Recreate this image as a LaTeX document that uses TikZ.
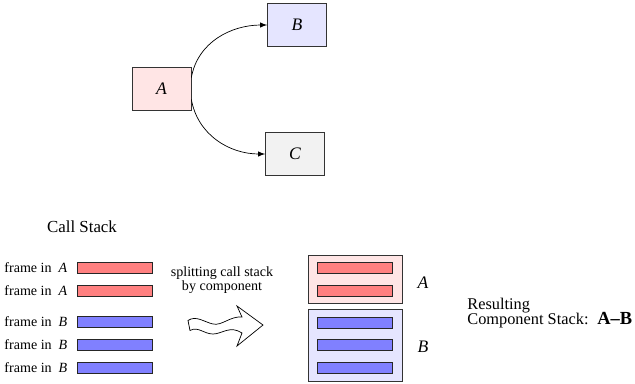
\documentclass[tikz,border=0pt]{standalone}
\usepackage{fontspec}
\setmainfont{Liberation Serif}
\usetikzlibrary{arrows,positioning}
\tikzset{
  comp/.style={draw=black!80,minimum width=1.18cm,minimum height=0.86cm,font=\fontsize{10}{12}\selectfont\itshape},
  bar/.style={draw=black!85,minimum width=1.5cm,minimum height=0.22cm,inner sep=0pt},
  redbar/.style={bar,fill=red!50},
  bluebar/.style={bar,fill=blue!50},
  framelbl/.style={inner sep=0pt,font=\fontsize{8}{9}\selectfont},
  group/.style={draw=black!80,minimum width=1.88cm,inner sep=0pt}
}
\begin{document}
\begin{tikzpicture}[x=0.02cm,y=-0.02cm]
\useasboundingbox (0,0) rectangle (635,383);
%components
\node[comp,fill=red!10](compA)at(161.5,88.5){A};
\node[comp,fill=blue!10](compB)at(297,25){B};
\node[comp,fill=black!5](compC)at(295,154){C};
\draw[-latex](compA.20)to[out=80,in=180](compB.west);
\draw[-latex](compA.-20)to[out=-80,in=180](compC.west);
%call stack
\node[font=\fontsize{9.6}{11}\selectfont](callstack)at(82,227){Call Stack};
\node[redbar](f1)at(114.5,267.5){};
\node[redbar](f2)at(114.5,290.5){};
\node[bluebar](f3)at(114.5,322){};
\node[bluebar](f4)at(114.5,344.5){};
\node[bluebar](f5)at(114.5,367.5){};
\foreach \f/\c in {f1/A,f2/A,f3/B,f4/B,f5/B}{
\node[framelbl,left=0.18cm of \f](\f lbl){frame in\hspace{0.5em}\textit{\c}};
}
%splitting arrow
\node[font=\fontsize{8}{7.2}\selectfont,align=center](split)at(222,280){splitting call stack\\by component};
\draw[fill=white](188,320.5)..controls(196,315)and(204,322)..(213,324)
  ..controls(222,326)and(230,316)..(242,317)--(237,306)--(263,325)--(237,346)--(242,333)
  ..controls(230,325)and(222,334)..(213,334)..controls(204,334)and(198,326)..(190,330.5)--cycle;
%component stack
\node[group,fill=red!10,minimum height=0.96cm](grpA)at(355,279){};
\node[group,fill=blue!10,minimum height=1.44cm](grpB)at(355,345){};
\node[redbar](g1)at(355,267.5){};
\node[redbar](g2)at(355,290.5){};
\node[bluebar](g3)at(355,322.5){};
\node[bluebar](g4)at(355,345){};
\node[bluebar](g5)at(355,367.5){};
\node[font=\fontsize{10}{12}\selectfont\itshape](grpAlbl)at(423,283){A};
\node[font=\fontsize{10}{12}\selectfont\itshape](grpBlbl)at(423,347){B};
\node[font=\fontsize{9.3}{9}\selectfont,align=left,anchor=west,inner sep=0pt](result)at(467,313){Resulting\\Component Stack:\hspace{5pt}{\fontsize{10.5}{9}\selectfont\bfseries A--B}};
\end{tikzpicture}
\end{document}
